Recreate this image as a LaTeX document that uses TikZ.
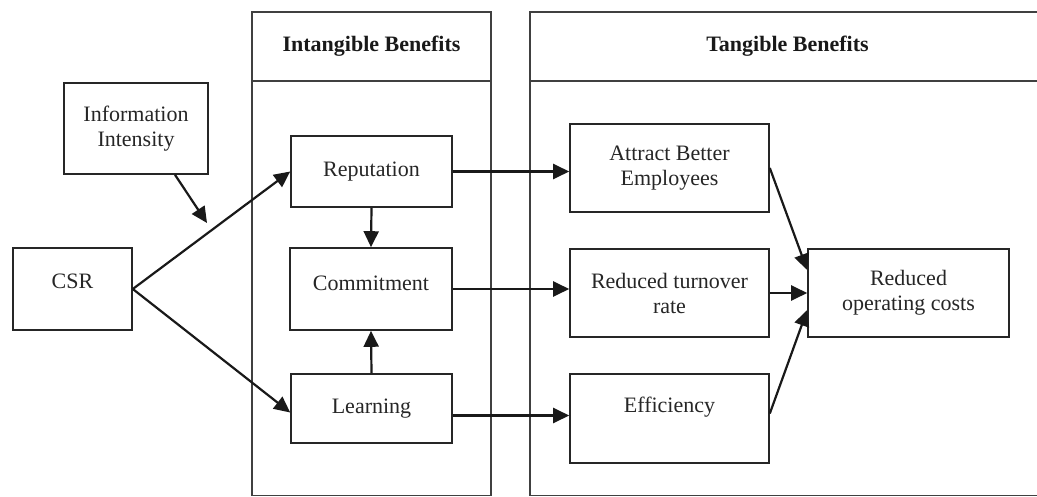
\documentclass[tikz,border=0pt]{standalone}
\usepackage{fontspec}
\setmainfont{Liberation Serif}
\usetikzlibrary{arrows.meta,calc}
\begin{document}
\begin{tikzpicture}[x=0.5pt,y=-0.5pt,
  box/.style={draw=black!85, line width=0.8pt, fill=white, inner sep=0pt,
    align=center, font=\fontsize{11}{12.5}\selectfont, text=black!85},
  lbl/.style={inner sep=0pt, align=center, font=\fontsize{11}{12.5}\selectfont, text=black!85},
  panel/.style={draw=black!75, line width=0.8pt, inner sep=0pt},
  head/.style={panel, font=\fontsize{11}{12.5}\selectfont\bfseries, text=black!90},
  link/.style={draw=black!90, line width=1.1pt, -{Triangle[length=8pt,width=7.5pt]}}]

\useasboundingbox (0,0) rectangle (1037,497);

% the two benefit panels (running off the right and bottom edges)
\begin{scope}
  \clip (0,0) rectangle (1037,497);
  \node[head,  minimum width=119.5pt, minimum height=34.5pt]  (intHead)  at (371.5,46.5)  {Intangible Benefits};
  \node[panel, minimum width=119.5pt, minimum height=207.25pt] (intBody)  at (371.5,288.25) {};
  \node[head,  minimum width=257.5pt, minimum height=34.5pt]  (tanHead)  at (787.5,46.5)  {Tangible Benefits};
  \node[panel, minimum width=257.5pt, minimum height=207.25pt] (tanBody)  at (787.5,288.25) {};
\end{scope}

% left-hand boxes
\node[box, minimum width=59.5pt, minimum height=41pt]   (csr)  at (72.5,289) {};
\node[lbl] (csrT) at ($(csr)+(0,-8)$) {CSR};
\node[box, minimum width=72pt, minimum height=45.5pt]   (info) at (136,128.5) {Information\\Intensity};

% intangible benefits
\node[box, minimum width=80.5pt, minimum height=35.5pt] (rep)   at (371.5,171.5) {Reputation};
\node[box, minimum width=81pt,   minimum height=41pt]   (comm)  at (371,289) {};
\node[lbl] (commT) at ($(comm)+(0,-6)$) {Commitment};
\node[box, minimum width=80.5pt, minimum height=34.5pt] (learn) at (371.5,408.5) {Learning};

% tangible benefits
\node[box, minimum width=99.5pt, minimum height=44pt]   (att)  at (669.5,168) {Attract Better\\Employees};
\node[box, minimum width=99.5pt, minimum height=44pt]   (turn) at (669.5,293) {Reduced turnover\\rate};
\node[box, minimum width=99.5pt, minimum height=44.5pt] (eff)  at (669.5,418.5) {};
\node[lbl] (effT) at ($(eff)+(0,-11)$) {Efficiency};
\node[box, minimum width=100.5pt, minimum height=44pt]  (roc)  at (908.5,293) {Reduced\\operating costs};

% connectors
\coordinate (mod) at (207,223);
\coordinate (le)  at ($(learn.east)+(0,7)$);
\draw[link] (csr.east) -- (rep.west);
\draw[link] (csr.east) -- ($(learn.west)+(0,4)$);
\draw[link] ($(info.south)+(39,0)$) -- (mod);
\draw[link] (rep.south) -- (comm.north);
\draw[link] (learn.north) -- (comm.south);
\draw[link] (rep.east) -- (rep.east -| att.west);
\draw[link] (comm.east) -- (comm.east -| turn.west);
\draw[link] (le) -- (le -| eff.west);
\draw[link] (att.east) -- ($(roc.west)+(0,-23)$);
\draw[link] (turn.east) -- (roc.west);
\draw[link] ($(eff.east)+(0,-5)$) -- ($(roc.west)+(0,17)$);
\end{tikzpicture}
\end{document}
